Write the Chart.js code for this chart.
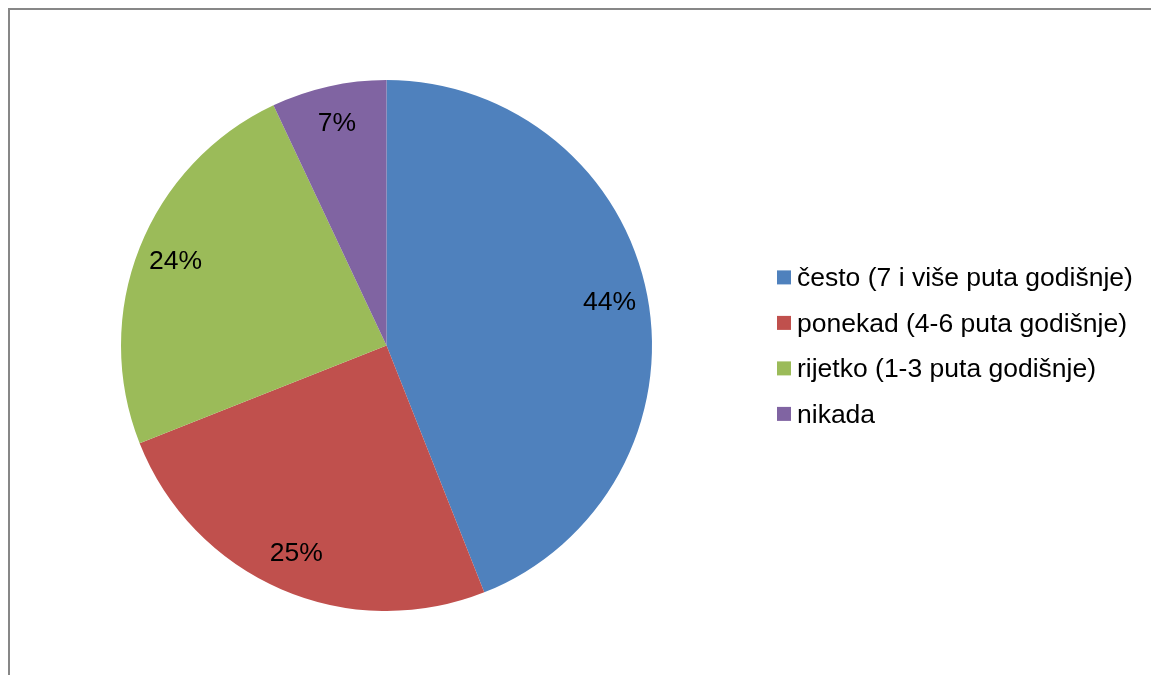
<!DOCTYPE html>
<html>
<head>
<meta charset="utf-8">
<title>Pie</title>
<script src="https://cdn.jsdelivr.net/npm/chart.js@4/dist/chart.umd.min.js"></script>
<style>
    html, body { margin: 0; padding: 0; background: #ffffff; overflow: hidden; }
    #wrap { position: relative; width: 1151px; height: 675px; }
    #frame { position: absolute; left: 8px; top: 8px; width: 1200px; height: 720px; border: 2px solid #878787; box-sizing: border-box; }
    #pieChart { position: absolute; left: 0; top: 0; }
</style>
</head>
<body>
<div id="wrap">
    <div id="frame"></div>
    <canvas id="pieChart" width="1151" height="675"></canvas>
</div>
<script>
// Data
const categories = ['često (7 i više puta godišnje)', 'ponekad (4-6 puta godišnje)', 'rijetko (1-3 puta godišnje)', 'nikada'];
const values = [44, 25, 24, 7];
const sliceColors = ['#4F81BD', '#C0504D', '#9BBB59', '#8064A2'];

const FONT = "'Liberation Sans', Arial, sans-serif";

// Percent labels inside slices
const sliceLabels = {
    id: 'sliceLabels',
    afterDatasetsDraw(chart) {
        const ctx = chart.ctx;
        const meta = chart.getDatasetMeta(0);
        const total = values.reduce((a, b) => a + b, 0);
        ctx.save();
        ctx.font = `26.5px ${FONT}`;
        ctx.fillStyle = '#000000';
        ctx.textAlign = 'center';
        ctx.textBaseline = 'middle';
        meta.data.forEach((arc, i) => {
            const p = arc.getProps(['x', 'y', 'startAngle', 'endAngle', 'outerRadius'], true);
            const mid = (p.startAngle + p.endAngle) / 2;
            const r = p.outerRadius * 0.855;
            const pct = Math.round(values[i] / total * 100) + '%';
            ctx.fillText(pct, p.x + Math.cos(mid) * r, p.y + Math.sin(mid) * r);
        });
        ctx.restore();
    }
};

// Legend on the right
const sideLegend = {
    id: 'sideLegend',
    afterDraw(chart) {
        const ctx = chart.ctx;
        ctx.save();
        ctx.font = `26.5px ${FONT}`;
        ctx.textAlign = 'left';
        ctx.textBaseline = 'alphabetic';
        categories.forEach((label, i) => {
            const cy = 277.4 + i * 45.5;
            ctx.fillStyle = sliceColors[i];
            ctx.fillRect(777, cy - 7, 14, 14);
            ctx.fillStyle = '#000000';
            ctx.fillText(label, 797, cy + 8.6);
        });
        ctx.restore();
    }
};

const ctx = document.getElementById('pieChart').getContext('2d');
const myChart = new Chart(ctx, {
    type: 'pie',
    data: {
        labels: categories,
        datasets: [{
            data: values,
            backgroundColor: sliceColors,
            borderWidth: 0
        }]
    },
    options: {
        responsive: false,
        animation: false,
        layout: { padding: { left: 121, right: 499, top: 80, bottom: 64 } },
        plugins: {
            legend: { display: false },
            tooltip: { enabled: false }
        }
    },
    plugins: [sliceLabels, sideLegend]
});
</script>
</body>
</html>
